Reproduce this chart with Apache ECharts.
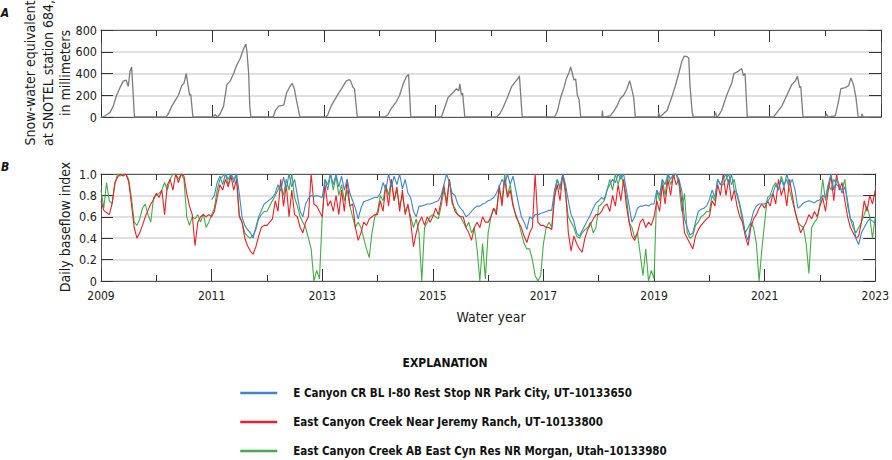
<!DOCTYPE html>
<html><head><meta charset="utf-8">
<script src="https://cdn.jsdelivr.net/npm/echarts@6/dist/echarts.min.js"></script>
<style>html,body{margin:0;padding:0;background:#fff}#c{width:892px;height:460px}</style>
</head><body><div id="c"></div>
<script>
// ---------- DATA ----------
const xMin = 2009, xMax = 2023;                 // water years
const sweTicks = [0, 200, 400, 600, 800];
const bfiTicks = [0, 0.2, 0.4, 0.6, 0.8, 1.0];

// Panel A: snow-water equivalent (mm) at SNOTEL station 684 (decimal water year, value)
const sweYear = [
 2009.0,2009.04,2009.10,2009.16,2009.22,2009.28,2009.34,2009.40,2009.45,2009.49,2009.52,2009.55,2009.60,
 2010.17,2010.21,2010.27,2010.33,2010.39,2010.45,2010.49,2010.53,2010.56,2010.59,2010.61,2010.65,
 2011.0,2011.05,2011.09,2011.14,2011.20,2011.26,2011.32,2011.38,2011.44,2011.50,2011.54,2011.57,2011.60,2011.62,2011.65,2011.67,2011.69,
 2012.09,2012.13,2012.19,2012.28,2012.33,2012.39,2012.43,2012.47,2012.51,2012.57,
 2013.04,2013.07,2013.13,2013.22,2013.28,2013.34,2013.40,2013.46,2013.49,2013.52,2013.55,2013.60,
 2014.09,2014.15,2014.21,2014.30,2014.36,2014.42,2014.48,2014.52,2014.56,
 2015.11,2015.15,2015.23,2015.27,2015.33,2015.38,2015.42,2015.44,2015.47,2015.49,2015.53,
 2016.10,2016.16,2016.22,2016.31,2016.37,2016.43,2016.48,2016.51,2016.56,
 2017.14,2017.19,2017.25,2017.31,2017.35,2017.40,2017.43,2017.46,2017.49,2017.52,2017.55,2017.58,2017.61,
 2017.99,2018.0,2018.01,2018.05,2018.14,2018.20,2018.26,2018.32,2018.38,2018.44,2018.49,2018.53,2018.56,2018.59,
 2019.0,2019.01,2019.03,2019.16,2019.25,2019.31,2019.37,2019.43,2019.47,2019.52,2019.55,2019.57,2019.61,2019.63,
 2020.0,2020.03,2020.05,2020.08,2020.14,2020.23,2020.32,2020.36,2020.44,2020.50,2020.53,2020.56,2020.60,
 2021.07,2021.10,2021.16,2021.22,2021.31,2021.40,2021.46,2021.50,2021.54,2021.56,2021.60,
 2022.0,2022.02,2022.05,2022.18,2022.24,2022.28,2022.36,2022.42,2022.46,2022.51,2022.55,2022.59,2022.65,2022.66,2022.68,2023.0
];
const sweMM = [
 0,0,20,40,100,200,270,330,340,280,420,460,0,
 0,30,100,150,200,290,310,400,300,200,210,0,
 0,20,0,30,100,300,330,400,480,540,600,640,670,600,400,100,0,
 0,60,100,110,220,280,310,260,150,0,
 0,20,100,180,230,280,330,345,320,275,260,0,
 0,20,80,140,200,300,370,390,0,
 0,60,180,200,230,260,240,305,200,220,0,
 0,30,90,200,280,320,350,380,0,
 0,50,180,270,350,410,460,400,340,350,200,160,0,
 0,60,0,0,10,50,100,170,200,260,333,250,180,0,
 0,40,0,60,190,290,400,520,560,555,540,300,50,0,
 0,40,0,10,60,200,310,400,420,445,380,400,0,
 0,20,60,100,200,300,330,375,270,280,0,
 0,30,0,10,150,260,270,290,360,290,180,0,0,30,0,0
];

// Panel B: daily baseflow index, sampled 20 times per water year
const samplesPerYear = 20;
const redStart = 2009, greenStart = 2009, blueStart = 2011;
const seriesNames = [
 'E Canyon CR BL I-80 Rest Stop NR Park City, UT\u201310133650',
 'East Canyon Creek Near Jeremy Ranch, UT\u201310133800',
 'East Canyon Creek AB East Cyn Res NR Morgan, Utah\u201310133980'
];
const bfiRed = [
 0.75,0.66,0.64,0.62,0.72,0.92,0.97,1.0,0.98,1.0,0.93,0.72,0.50,0.40,0.45,0.52,0.60,0.66,0.72,0.76,
 0.82,0.78,0.85,0.62,0.90,0.95,0.85,1.0,0.92,1.0,0.98,0.82,0.70,0.62,0.33,0.55,0.60,0.62,0.60,0.62,
 0.60,0.65,0.78,0.90,0.85,0.95,0.88,0.98,0.85,0.95,0.60,0.55,0.40,0.33,0.28,0.25,0.32,0.42,0.50,0.52,
 0.52,0.55,0.58,0.75,0.65,0.95,0.70,0.90,0.60,0.85,0.62,0.60,0.50,0.45,0.55,0.60,1.0,0.72,0.70,0.65,
 0.60,0.90,0.70,0.75,0.65,0.80,0.62,0.85,0.65,0.95,0.70,0.72,0.50,0.38,0.45,0.55,0.52,0.58,0.60,0.62,
 0.62,0.75,0.65,0.90,0.70,0.95,0.75,0.88,0.65,0.85,0.62,0.72,0.55,0.32,0.45,0.55,0.60,0.52,0.60,0.55,
 0.60,0.68,0.62,0.75,0.90,0.70,0.95,0.75,0.65,0.62,0.60,0.60,0.50,0.45,0.38,0.50,0.55,0.50,0.60,0.55,
 0.55,0.60,0.68,0.62,0.90,0.70,0.95,0.78,0.85,0.70,0.62,0.55,0.50,0.42,0.36,0.45,0.50,1.0,0.55,0.52,
 0.52,0.50,0.50,0.48,0.78,0.90,0.75,1.0,0.85,0.45,0.28,0.42,0.35,0.30,0.27,0.40,0.48,0.53,0.58,0.62,
 0.62,0.65,0.70,0.72,0.65,0.80,0.70,0.90,0.75,0.95,0.70,0.55,0.42,0.38,0.45,0.55,0.58,0.50,0.55,0.52,
 0.60,0.75,0.65,0.90,0.72,0.95,0.80,1.0,0.90,0.95,0.75,0.45,0.40,0.35,0.30,0.42,0.48,0.52,0.55,0.58,
 0.60,0.75,0.70,0.90,0.80,1.0,0.80,0.95,0.75,0.85,0.70,0.60,0.55,0.42,0.33,0.50,0.58,0.62,0.68,0.72,
 0.68,0.75,0.70,0.82,0.72,0.95,0.80,0.88,0.70,0.95,0.80,0.65,0.55,0.45,0.50,0.55,0.62,0.58,0.65,0.60,
 0.70,0.78,0.65,0.85,0.98,0.75,1.0,0.85,0.92,0.75,0.60,0.50,0.45,0.40,0.42,0.55,0.75,0.65,0.80,0.72,
 0.85
];
const bfiGreen = [
 0.85,0.68,0.92,0.75,0.72,0.90,1.0,0.98,1.0,1.0,0.95,0.78,0.55,0.52,0.58,0.68,0.72,0.62,0.55,0.78,
 0.80,0.82,0.85,0.92,0.85,0.95,1.0,1.0,0.95,1.0,0.95,0.60,0.52,0.60,0.58,0.62,0.55,0.63,0.50,0.55,
 0.62,0.68,0.85,0.95,0.98,1.0,0.90,1.0,0.95,1.0,0.62,0.55,0.45,0.42,0.40,0.43,0.48,0.58,0.62,0.65,
 0.65,0.70,0.75,0.80,0.85,0.90,0.80,0.95,0.85,1.0,0.78,0.70,0.60,0.55,0.50,0.40,0.30,0.0,0.10,0.02,
 0.60,0.95,0.90,1.0,0.85,0.98,0.80,0.90,0.75,0.85,0.70,0.60,0.50,0.55,0.50,0.40,0.30,0.22,0.45,0.60,
 0.65,0.80,0.75,0.90,0.80,0.95,0.75,0.85,0.70,0.80,0.65,0.70,0.60,0.50,0.58,0.45,0.0,0.50,0.55,0.60,
 0.62,0.60,0.58,0.70,0.85,0.75,0.95,0.72,0.68,0.62,0.60,0.55,0.50,0.55,0.45,0.50,0.30,0.0,0.35,0.02,
 0.45,0.60,0.68,0.65,0.85,0.75,1.0,0.80,0.90,0.72,0.60,0.55,0.45,0.35,0.30,0.30,0.20,0.05,0.0,0.05,
 0.35,0.50,0.55,0.50,0.80,0.95,0.85,1.0,0.80,0.60,0.55,0.50,0.42,0.40,0.45,0.48,0.50,0.55,0.45,0.50,
 0.70,0.72,0.75,0.85,0.95,0.85,1.0,0.90,1.0,0.90,0.80,0.55,0.50,0.40,0.45,0.25,0.05,0.30,0.0,0.10,
 0.02,0.85,0.75,0.95,0.80,1.0,0.90,0.98,1.0,0.90,0.65,0.82,0.45,0.40,0.42,0.52,0.55,0.60,0.62,0.65,
 0.65,0.80,0.75,0.95,0.90,0.90,0.95,1.0,0.90,0.95,0.80,0.70,0.55,0.45,0.50,0.55,0.50,0.35,0.0,0.30,
 0.55,0.78,0.80,0.88,0.92,0.85,0.98,0.90,0.95,0.85,0.75,0.65,0.55,0.52,0.50,0.35,0.07,0.50,0.55,0.58,
 0.72,0.95,0.75,0.90,0.85,0.95,0.90,0.88,0.85,0.95,0.70,0.58,0.50,0.45,0.50,0.55,0.62,0.70,0.60,0.40,
 0.60
];
const bfiBlue = [
 0.76,0.80,0.92,0.98,0.90,1.0,0.95,1.0,0.92,1.0,0.82,0.60,0.52,0.48,0.45,0.40,0.50,0.60,0.66,0.72,
 0.74,0.76,0.78,0.82,0.90,0.84,0.97,0.86,1.0,0.88,0.95,0.80,0.65,0.60,0.72,0.77,0.80,0.79,0.80,0.79,
 0.78,0.95,0.85,1.0,0.90,1.0,0.88,0.98,0.85,0.95,0.82,0.75,0.68,0.58,0.68,0.74,0.75,0.76,0.77,0.78,
 0.78,0.82,0.92,0.85,1.0,0.88,0.98,0.90,1.0,0.86,0.95,0.82,0.78,0.65,0.60,0.70,0.70,0.71,0.72,0.72,
 0.73,0.74,0.75,0.80,0.90,1.0,0.92,0.82,0.80,0.72,0.68,0.65,0.60,0.62,0.65,0.68,0.70,0.70,0.72,0.73,
 0.75,0.76,0.78,0.82,0.88,0.95,0.90,1.0,0.90,0.98,0.85,0.72,0.60,0.55,0.48,0.60,0.58,0.62,0.62,0.63,
 0.64,0.65,0.66,0.66,0.85,0.95,0.88,1.0,0.90,0.75,0.62,0.56,0.45,0.42,0.47,0.52,0.57,0.62,0.68,0.73,
 0.75,0.78,0.76,0.85,0.90,0.95,0.92,1.0,0.95,1.0,0.85,0.70,0.55,0.60,0.68,0.70,0.70,0.71,0.70,0.72,
 0.72,0.85,0.80,0.95,0.90,1.0,0.95,1.0,1.0,0.95,0.85,0.58,0.50,0.43,0.45,0.55,0.65,0.67,0.68,0.70,
 0.76,0.85,0.78,0.95,0.90,0.95,1.0,0.90,1.0,0.85,0.82,0.72,0.60,0.45,0.38,0.55,0.65,0.70,0.72,0.72,
 0.72,0.74,0.78,0.82,0.90,0.85,0.95,0.88,1.0,0.90,0.95,0.85,0.68,0.70,0.73,0.74,0.75,0.74,0.73,0.75,
 0.76,0.80,0.78,0.90,1.0,0.85,0.95,0.90,0.82,0.88,0.75,0.58,0.55,0.40,0.34,0.45,0.50,0.55,0.58,0.56,
 0.54
];
const colors = { blue: '#3f86c8', red: '#e8222a', green: '#43ad45', swe: '#7d7d7d' };

// ---------- CHART ----------
const FONT = "'DejaVu Sans Condensed','Liberation Sans Narrow','Arial Narrow',sans-serif";
const frame = '#555';
const toPairs = (arr, start) => arr.map((v, i) => [start + i / samplesPerYear, v]);

function xAx(gi, pos, showLabel) {
  return {
    type: 'value', gridIndex: gi, position: pos, min: xMin, max: xMax, interval: 2,
    axisLine: { show: true, onZero: false, lineStyle: { color: frame, width: 1 } },
    axisTick: { show: true, inside: true, length: 12, lineStyle: { color: '#333', width: 1 } },
    minorTick: { show: true, splitNumber: 2, length: 6, lineStyle: { color: '#333', width: 1 } },
    splitLine: { show: false }, minorSplitLine: { show: false },
    axisLabel: { show: showLabel, color: '#1a1a1a', fontFamily: FONT, fontSize: 12, margin: 9,
      formatter: v => String(Math.round(v)) }
  };
}
function yAx(gi, pos, ticks, showLabel, fmt) {
  return {
    type: 'value', gridIndex: gi, position: pos, min: ticks[0], max: ticks[ticks.length - 1],
    interval: ticks[1] - ticks[0],
    axisLine: { show: true, onZero: false, lineStyle: { color: frame, width: 1 } },
    axisTick: { show: true, inside: true, length: 12, lineStyle: { color: '#333', width: 1 } },
    splitLine: { show: showLabel, lineStyle: { color: '#d6d6d6', width: 1.5 } },
    axisLabel: { show: showLabel, color: '#1a1a1a', fontFamily: FONT, fontSize: 12.5, margin: 4, formatter: fmt }
  };
}

const chart = echarts.init(document.getElementById('c'), null, { renderer: 'svg' });
chart.setOption({
  animation: false,
  backgroundColor: '#fff',
  grid: [
    { left: 101, right: 11, top: 30, height: 87 },
    { left: 101, right: 11, top: 174, height: 107 }
  ],
  xAxis: [ xAx(0, 'bottom', false), xAx(0, 'top', false), xAx(1, 'bottom', true), xAx(1, 'top', false) ],
  yAxis: [
    yAx(0, 'left', sweTicks, true, v => String(v)), yAx(0, 'right', sweTicks, false),
    yAx(1, 'left', bfiTicks, true, v => v === 0 ? '0' : v.toFixed(1)), yAx(1, 'right', bfiTicks, false)
  ],
  legend: {
    data: seriesNames, orient: 'vertical', left: 239, top: 387, padding: 0,
    itemWidth: 37, itemHeight: 14, itemGap: 17,
    lineStyle: { width: 2.5 },
    itemStyle: { opacity: 0 },
    textStyle: { fontFamily: FONT, fontWeight: 'bold', fontSize: 11.5, color: '#111', padding: [0, 0, 0, 11] }
  },
  series: [
    { type: 'line', xAxisIndex: 0, yAxisIndex: 0, symbol: 'none', silent: true,
      data: sweYear.map((t, i) => [t, sweMM[i]]), lineStyle: { color: colors.swe, width: 1.3 } },
    { name: seriesNames[2], type: 'line', xAxisIndex: 2, yAxisIndex: 2, symbol: 'none', silent: true,
      data: toPairs(bfiGreen, greenStart), color: colors.green, lineStyle: { color: colors.green, width: 1.1 } },
    { name: seriesNames[1], type: 'line', xAxisIndex: 2, yAxisIndex: 2, symbol: 'none', silent: true,
      data: toPairs(bfiRed, redStart), color: colors.red, lineStyle: { color: colors.red, width: 1.1 } },
    { name: seriesNames[0], type: 'line', xAxisIndex: 2, yAxisIndex: 2, symbol: 'none', silent: true,
      data: toPairs(bfiBlue, blueStart), color: colors.blue, lineStyle: { color: colors.blue, width: 1.1 } }
  ],
  graphic: [
    { type: 'text', x: 5, y: 13, style: { text: 'A', font: "italic bold 12px " + FONT, fill: '#111', textAlign: 'center', textVerticalAlign: 'middle' } },
    { type: 'text', x: 5, y: 167, style: { text: 'B', font: "italic bold 12px " + FONT, fill: '#111', textAlign: 'center', textVerticalAlign: 'middle' } },
    { type: 'text', x: 47.5, y: 73, rotation: Math.PI / 2,
      style: { text: 'Snow-water equivalent\nat SNOTEL station 684,\nin millimeters', font: "14px " + FONT,
        lineHeight: 17.5, fill: '#1a1a1a', textAlign: 'center', textVerticalAlign: 'middle' } },
    { type: 'text', x: 65, y: 227, rotation: Math.PI / 2,
      style: { text: 'Daily baseflow index', font: "14px " + FONT, fill: '#1a1a1a', textAlign: 'center', textVerticalAlign: 'middle' } },
    { type: 'text', x: 491, y: 317, style: { text: 'Water year', font: "14px " + FONT, fill: '#1a1a1a', textAlign: 'center', textVerticalAlign: 'middle' } },
    { type: 'text', x: 445, y: 363, style: { text: 'EXPLANATION', font: "bold 12px " + FONT, fill: '#111', textAlign: 'center', textVerticalAlign: 'middle' } }
  ]
});
</script>
</body></html>
